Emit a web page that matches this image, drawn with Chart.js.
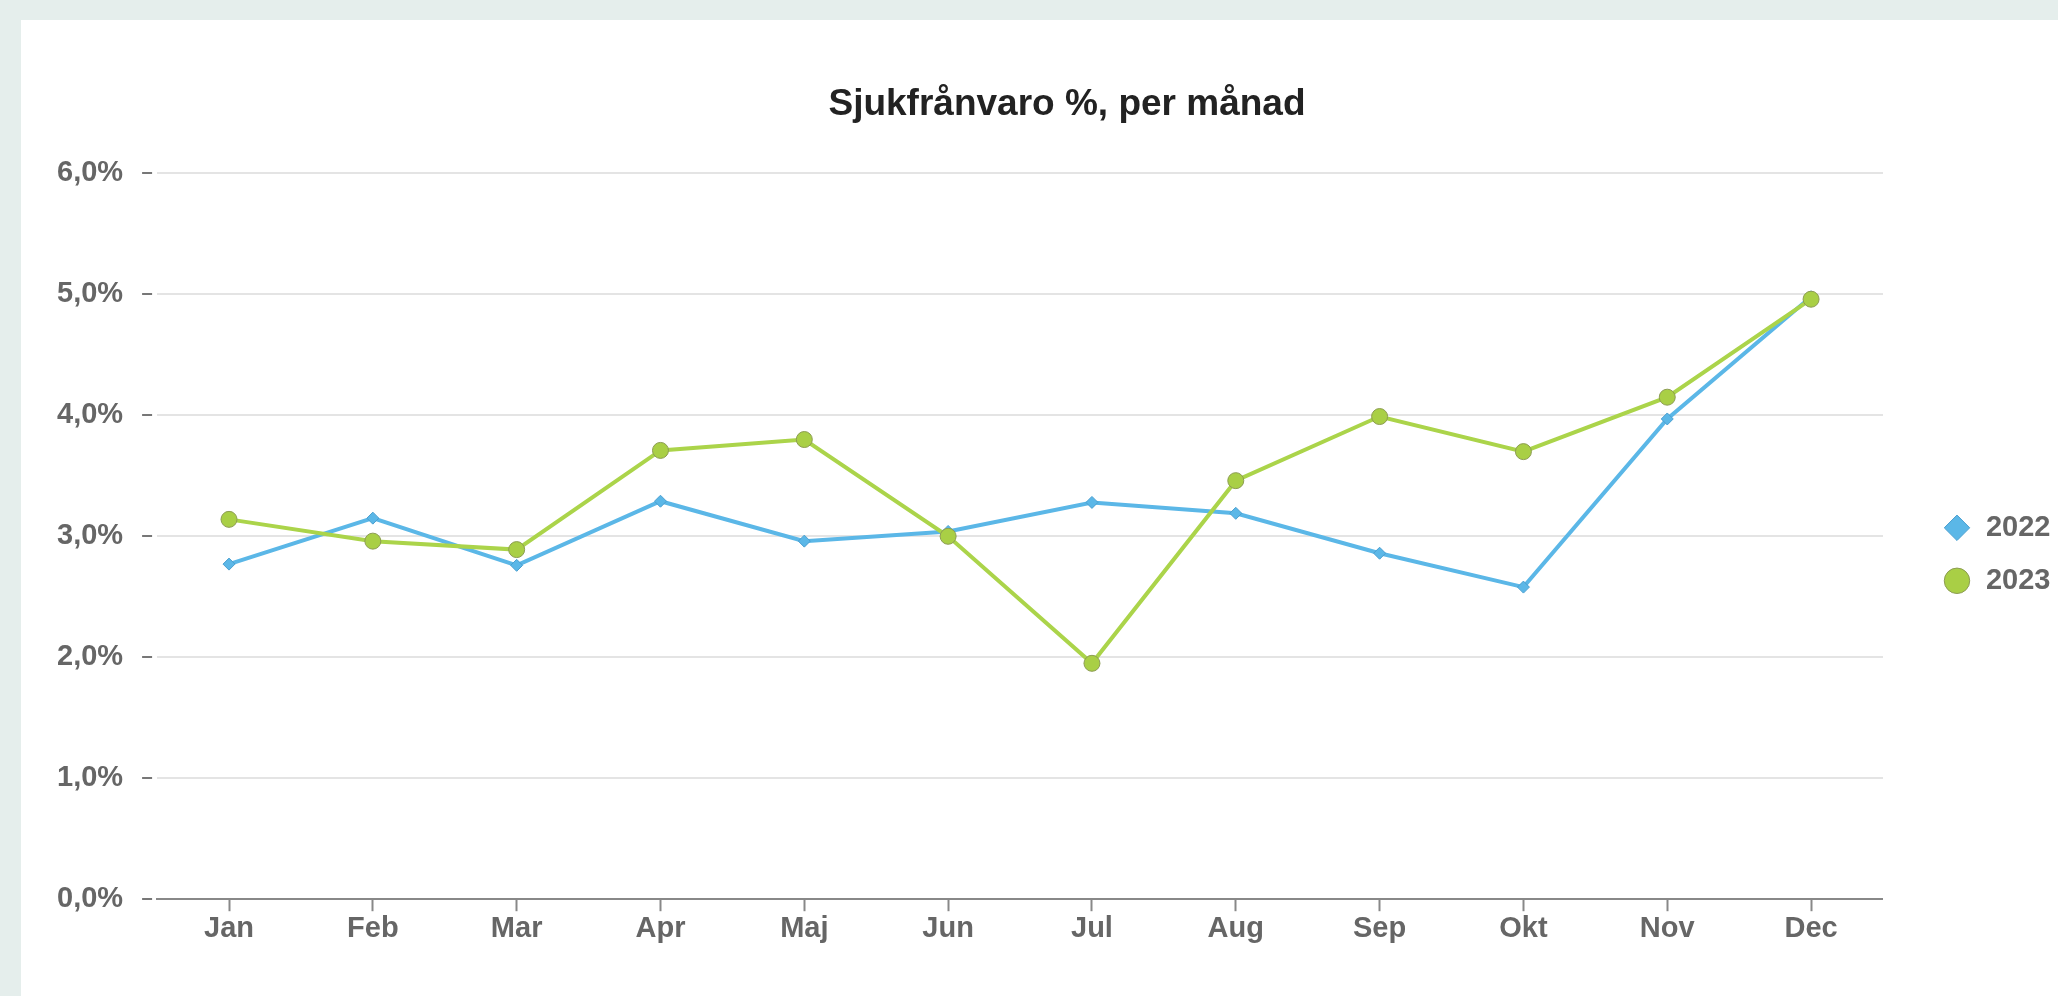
<!DOCTYPE html>
<html>
<head>
<meta charset="utf-8">
<script src="https://cdn.jsdelivr.net/npm/chart.js@4.4.1/dist/chart.umd.min.js"></script>
<style>
  html, body { margin: 0; padding: 0; width: 2058px; height: 996px; overflow: hidden; background: #e5eeec; }
  #panel { position: absolute; left: 21px; top: 20px; width: 2092px; height: 976px; background: #fff; }
  #chart { display: block; }
</style>
</head>
<body>
<div id="panel"><canvas id="chart" width="2092" height="976"></canvas></div>
<script>
// ---- data
var months = ['Jan', 'Feb', 'Mar', 'Apr', 'Maj', 'Jun', 'Jul', 'Aug', 'Sep', 'Okt', 'Nov', 'Dec'];
var sick2022 = [2.77, 3.15, 2.76, 3.29, 2.96, 3.04, 3.28, 3.19, 2.86, 2.58, 3.97, 4.98];
var sick2023 = [3.14, 2.96, 2.89, 3.71, 3.80, 3.00, 1.95, 3.46, 3.99, 3.70, 4.15, 4.96];
var yTickLabels = ['0,0%', '1,0%', '2,0%', '3,0%', '4,0%', '5,0%', '6,0%'];

var fontFamily = '"Liberation Sans", Arial, sans-serif';
var labelFont = { family: fontFamily, size: 29, weight: 'bold' };

// keep some air between the plot and the legend (legend box gets wider, items move right)
var legendGap = {
  id: 'legendGap',
  beforeInit: function (chart) {
    var fit = chart.legend.fit;
    chart.legend.fit = function () {
      fit.call(this);
      this.width += 71;
    };
  },
  afterLayout: function (chart) {
    chart.legend.left += 35.5;
    chart.legend.top += 18;
    chart.legend.bottom += 18;
  }
};

// ---- chart
var ctx = document.getElementById('chart').getContext('2d');
var chart = new Chart(ctx, {
  type: 'line',
  data: {
    labels: months,
    datasets: [{
      label: '2022',
      data: sick2022,
      borderColor: '#5bb7e7',
      backgroundColor: '#5bb7e7',
      borderWidth: 4,
      pointStyle: 'rectRot',
      pointRadius: 6,
      pointBackgroundColor: '#5bb7e7',
      pointBorderColor: '#4a9fd0',
      pointBorderWidth: 1,
      tension: 0,
      order: 1
    }, {
      label: '2023',
      data: sick2023,
      borderColor: '#abd44a',
      backgroundColor: '#abd44a',
      borderWidth: 4,
      pointStyle: 'circle',
      pointRadius: 8,
      pointBackgroundColor: '#a9cf45',
      pointBorderColor: '#8c9c52',
      pointBorderWidth: 1,
      tension: 0,
      order: 0
    }]
  },
  options: {
    responsive: false,
    animation: false,
    events: [],
    devicePixelRatio: 1,
    layout: { padding: { left: 17, right: 17, top: 0, bottom: 50 } },
    plugins: {
      title: {
        display: true,
        text: 'Sjukfrånvaro %, per månad',
        color: '#222',
        font: { family: fontFamily, size: 37, weight: 'bold' },
        padding: { top: 63, bottom: 46 }
      },
      legend: {
        position: 'right',
        fullSize: false,
        labels: {
          usePointStyle: true,
          boxHeight: 18,
          padding: 24,
          color: '#666',
          font: labelFont,
          sort: function (a, b) { return a.datasetIndex - b.datasetIndex; }
        }
      },
      tooltip: { enabled: false }
    },
    scales: {
      x: {
        offset: true,
        grid: { drawOnChartArea: false, drawTicks: true, tickLength: 12, tickColor: '#888', tickWidth: 2 },
        border: { display: true, color: '#888', width: 2 },
        ticks: { color: '#666', padding: 0, font: labelFont }
      },
      y: {
        min: 0,
        max: 6,
        grid: { color: '#e4e4e4', lineWidth: 2, tickLength: 15, tickColor: '#777', tickWidth: 2, tickBorderDash: [10, 20] },
        border: { display: false },
        ticks: {
          stepSize: 1,
          color: '#666',
          padding: 19,
          font: labelFont,
          callback: function (v) { return yTickLabels[v]; }
        }
      }
    }
  },
  plugins: [legendGap]
});
</script>
</body>
</html>
